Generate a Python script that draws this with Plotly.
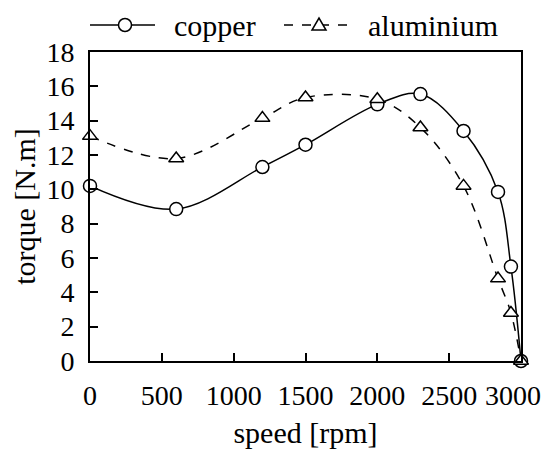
import plotly.graph_objects as go

speed_cu = [0, 600, 1200, 1500, 2000, 2300, 2600, 2840, 2930, 3000]
torque_cu = [10.2, 8.85, 11.3, 12.6, 14.95, 15.55, 13.4, 9.85, 5.5, 0.0]
speed_al = [0, 600, 1200, 1500, 2000, 2300, 2600, 2840, 2930, 3000]
torque_al = [13.1, 11.8, 14.15, 15.35, 15.25, 13.6, 10.2, 4.8, 2.8, 0.0]

x_ticks = [0, 500, 1000, 1500, 2000, 2500, 3000]
x_tick_labels = ["0", "500", "1000", "1500", "2000", "2500", "3000"]
y_ticks = [0, 2, 4, 6, 8, 10, 12, 14, 16, 18]
series_names = ["copper", "aluminium"]

FONT = "Liberation Serif, DejaVu Serif"
TICK_SIZE = 28
TITLE_SIZE = 30

# plot area in pixels
W, H = 547, 452
L, R, T, B = 90, 26, 52, 91
PW, PH = W - L - R, H - T - B


def px(x):
    return (x - L) / PW


def py(y):
    return (H - B - y) / PH


fig = go.Figure()
fig.add_trace(go.Scatter(
    x=speed_cu, y=torque_cu, name=series_names[0], mode="lines+markers",
    line=dict(color="black", width=1.5, shape="spline", smoothing=1.0),
    marker=dict(symbol="circle", size=13, color="white", line=dict(color="black", width=1.5)),
    cliponaxis=False, showlegend=False,
))
fig.add_trace(go.Scatter(
    x=speed_al, y=torque_al, name=series_names[1], mode="lines+markers",
    line=dict(color="black", width=1.5, dash="dash", shape="spline", smoothing=1.0),
    marker=dict(symbol="triangle-up", size=13, color="white", line=dict(color="black", width=1.5)),
    cliponaxis=False, showlegend=False,
))

axis_common = dict(
    showgrid=False, zeroline=False, showline=True, linecolor="black", linewidth=2,
    mirror=True, ticks="inside", ticklen=8, tickwidth=1.5, tickcolor="black",
    automargin=False,
    tickfont=dict(family=FONT, size=TICK_SIZE, color="black"),
)
# last x label is drawn as an annotation nudged left so it stays inside the page
fig.update_xaxes(range=[0, 3000], tickvals=x_ticks, ticktext=x_tick_labels[:-1] + [""],
                 ticklabelstandoff=8,
                 title=dict(text="speed [rpm]", font=dict(family=FONT, size=TITLE_SIZE, color="black"), standoff=12),
                 **axis_common)
fig.update_yaxes(range=[0, 18], tickvals=y_ticks, ticklabelstandoff=8,
                 title=dict(text="torque [N.m]", font=dict(family=FONT, size=TITLE_SIZE, color="black"), standoff=2),
                 **axis_common)

# custom legend (decoration drawn in paper coordinates)
LEG_Y = 25
shapes = [
    dict(type="line", xref="paper", yref="paper", x0=px(90), x1=px(155), y0=py(LEG_Y), y1=py(LEG_Y),
         line=dict(color="black", width=1.5)),
    dict(type="circle", xref="paper", yref="paper", xsizemode="pixel", ysizemode="pixel",
         xanchor=px(125), yanchor=py(LEG_Y), x0=-6.5, x1=6.5, y0=-6.5, y1=6.5,
         fillcolor="white", line=dict(color="black", width=1.5)),
    dict(type="line", xref="paper", yref="paper", x0=px(284), x1=px(352), y0=py(LEG_Y), y1=py(LEG_Y),
         line=dict(color="black", width=1.5, dash="dash")),
    dict(type="path", xref="paper", yref="paper", xsizemode="pixel", ysizemode="pixel",
         xanchor=px(319), yanchor=py(LEG_Y), path="M -7 -5 L 7 -5 L 0 7 Z",
         fillcolor="white", line=dict(color="black", width=1.5)),
]
annotations = [
    dict(text=series_names[0], xref="paper", yref="paper", x=px(172), y=py(LEG_Y),
         xanchor="left", yanchor="middle", showarrow=False,
         font=dict(family=FONT, size=TITLE_SIZE, color="black")),
    dict(text=series_names[1], xref="paper", yref="paper", x=px(366), y=py(LEG_Y),
         xanchor="left", yanchor="middle", showarrow=False,
         font=dict(family=FONT, size=TITLE_SIZE, color="black")),
    dict(text=x_tick_labels[-1], xref="x", yref="paper", x=x_ticks[-1], y=py(395),
         xanchor="right", yanchor="middle", xshift=22, showarrow=False,
         font=dict(family=FONT, size=TICK_SIZE, color="black")),
]

fig.update_layout(
    width=W, height=H,
    margin=dict(l=L, r=R, t=T, b=B, autoexpand=False),
    paper_bgcolor="white", plot_bgcolor="white",
    font=dict(family=FONT, size=TICK_SIZE, color="black"),
    showlegend=False, shapes=shapes, annotations=annotations,
)

fig.write_html("out.html")
